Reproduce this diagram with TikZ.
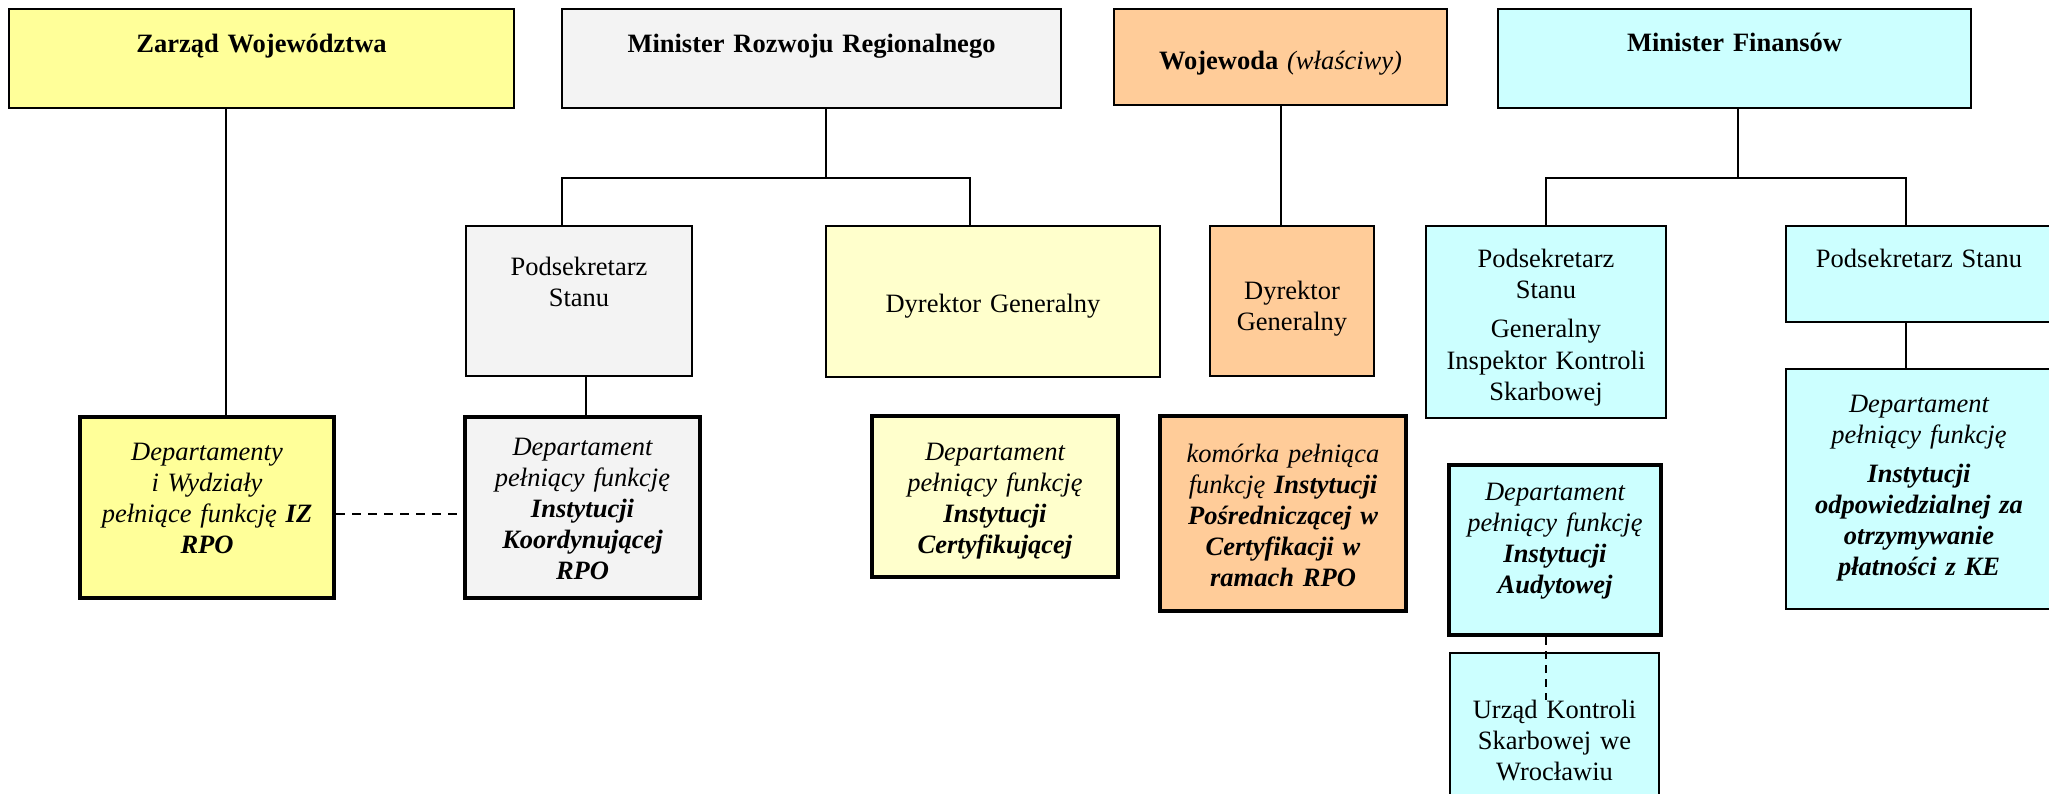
\documentclass[tikz,border=0pt]{standalone}
\usepackage{fontspec}
\setmainfont{Liberation Serif}
\definecolor{zwyellow}{HTML}{FFFF99}
\definecolor{paleyellow}{HTML}{FFFFCC}
\definecolor{mrrgray}{HTML}{F3F3F3}
\definecolor{wojorange}{HTML}{FFCC99}
\definecolor{mfcyan}{HTML}{CCFFFF}

\begin{document}
\begin{tikzpicture}[x=1pt,y=-1pt,
	every node/.style={font=\fontsize{26.5}{31}\selectfont},
	box/.style={draw=black, rectangle, align=center, inner xsep=5pt, inner ysep=0pt},
	topbox/.style={box, line width=2.5pt},
	subbox/.style={box, line width=2pt},
	thinbox/.style={box, line width=1.2pt},
	fnbox/.style={box, line width=4.5pt, font=\fontsize{26.5}{31}\selectfont\itshape},
	link/.style={line width=2pt}]
	
	\path[use as bounding box, fill=white] (0,0) rectangle (2049,794);
	
	%----------------------------
	% Top row: the four authorities
	%----------------------------
	\node[topbox, fill=zwyellow, text width=495pt, text height=44pt, text depth=55pt]
	(zw) at (261.5,58.5) {\textbf{Zarząd Województwa}};
	\node[topbox, fill=mrrgray, text width=489pt, text height=44pt, text depth=55pt]
	(mrr) at (811.5,58.5) {\textbf{Minister Rozwoju Regionalnego}};
	\node[box, line width=1.5pt, fill=wojorange, text width=323pt, text height=61pt, text depth=35pt]
	(woj) at (1280.5,57) {\textbf{Wojewoda} \textit{(właściwy)}};
	\node[topbox, fill=mfcyan, text width=463pt, text height=43pt, text depth=56pt]
	(mf) at (1734.5,58.5) {\textbf{Minister Finansów}};
	
	%----------------------------
	% Middle row: secretaries and directors
	%----------------------------
	\node[subbox, fill=mrrgray, text width=216pt, text height=50pt, text depth=100pt]
	(ps1) at (579,301) {Podsekretarz\\Stanu};
	\node[thinbox, fill=paleyellow, text width=324pt, text height=86pt, text depth=65pt]
	(dg1) at (993,301.5) {Dyrektor Generalny};
	\node[thinbox, fill=wojorange, text width=154pt, text height=73pt, text depth=77pt]
	(dyrw) at (1292,301) {Dyrektor\\Generalny};
	\node[subbox, fill=mfcyan, text width=230pt, text height=42pt, text depth=150pt]
	(psg) at (1546,322) {Podsekretarz\\Stanu\\[8pt]Generalny\\Inspektor Kontroli\\Skarbowej};
	\node[subbox, fill=mfcyan, text width=256pt, text height=42pt, text depth=54pt]
	(pss) at (1919,274) {Podsekretarz Stanu};
	
	%----------------------------
	% Bottom row: departments acting as institutions
	%----------------------------
	\node[fnbox, fill=zwyellow, text width=244pt, text height=43pt, text depth=138pt]
	(iz) at (207,507.5) {Departamenty\\i Wydziały\\pełniące funkcję \textbf{IZ}\\\textbf{RPO}};
	\node[fnbox, fill=mrrgray, text width=225pt, text height=38pt, text depth=143pt]
	(ko) at (582.5,507.5) {Departament\\pełniący funkcję\\\textbf{Instytucji}\\\textbf{Koordynującej}\\\textbf{RPO}};
	\node[fnbox, fill=paleyellow, text width=236pt, text height=44pt, text depth=117pt]
	(ic) at (995,496.5) {Departament\\pełniący funkcję\\\textbf{Instytucji}\\\textbf{Certyfikującej}};
	\node[fnbox, fill=wojorange, text width=236pt, text height=46pt, text depth=149pt]
	(ip) at (1283,513.5) {komórka pełniąca\\funkcję \textbf{Instytucji}\\\textbf{Pośredniczącej w}\\\textbf{Certyfikacji w}\\\textbf{ramach RPO}};
	\node[fnbox, fill=mfcyan, text width=202pt, text height=35pt, text depth=135pt]
	(ia) at (1555,550) {Departament\\pełniący funkcję\\\textbf{Instytucji}\\\textbf{Audytowej}};
	\node[subbox, fill=mfcyan, font=\fontsize{26.5}{31}\selectfont\itshape, text width=256pt, text height=43pt, text depth=197pt]
	(ke) at (1919,489) {Departament\\pełniący funkcję\\[8pt]\textbf{Instytucji}\\\textbf{odpowiedzialnej za}\\\textbf{otrzymywanie}\\\textbf{płatności z KE}};
	\node[thinbox, fill=mfcyan, text width=199pt, text height=65pt, text depth=87pt]
	(uks) at (1554.5,729) {Urząd Kontroli\\Skarbowej we\\Wrocławiu};
	
	%----------------------------
	% Connectors
	%----------------------------
	% Zarzad -> IZ
	\draw[link] ([xshift=-35.5pt]zw.south) -- ([xshift=-35.5pt]zw.south |- iz.north);
	
	% MRR -> Podsekretarz, Dyrektor Generalny
	\coordinate (mrrbus) at (826,178);
	\draw[link] (mrr.south -| mrrbus) -- (mrrbus);
	\draw[link] ([xshift=-17pt]ps1.north) |- (mrrbus) -| ([xshift=-23pt]dg1.north);
	\draw[link] ([xshift=3.5pt]ko.north |- ps1.south) -- ([xshift=3.5pt]ko.north);
	
	% Wojewoda -> Dyrektor Generalny
	\draw[link] (woj.south) -- (woj.south |- dyrw.north);
	
	% MF -> both secretaries
	\coordinate (mfbus) at (1738,178);
	\draw[link] (mf.south -| mfbus) -- (mfbus);
	\draw[link] (psg.north) |- (mfbus) -| ([xshift=-13pt]pss.north);
	\draw[link] ([xshift=-13pt]pss.south) -- ([xshift=-13pt]ke.north);
	
	% dashed links
	\draw[link, dash pattern=on 9pt off 7pt] ([yshift=-6pt]iz.east) -- ([yshift=-6pt]iz.east -| ko.west);
	\coordinate (uksend) at (1546,700);
	\draw[line width=1.5pt, dash pattern=on 8pt off 6pt] (ia.south -| uksend) -- (uksend);
	
\end{tikzpicture}
\end{document}
